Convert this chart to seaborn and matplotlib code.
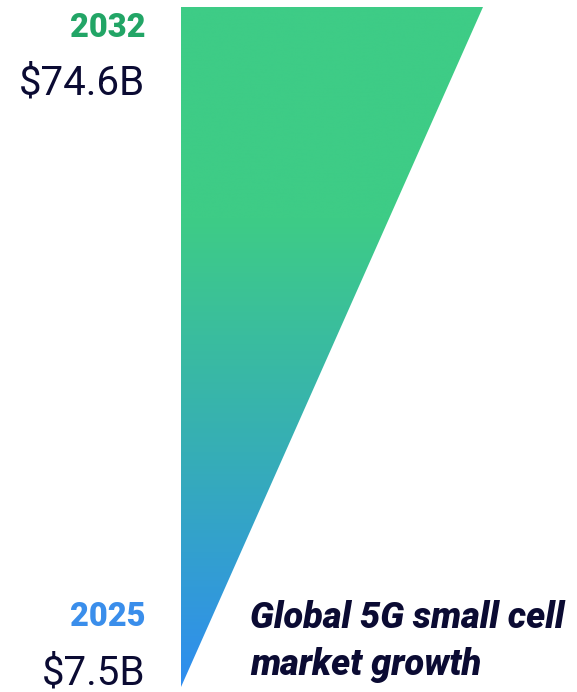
import numpy as np
import matplotlib
matplotlib.use('Agg')
import matplotlib.pyplot as plt
from matplotlib.patches import Polygon
import seaborn as sns

# data
years = [2025, 2032]
values = [7.5, 74.6]
value_labels = ['$7.5B', '$74.6B']
title_lines = ['Global 5G small cell', 'market growth']

BLUE = '#2F8DF0'
GREEN = '#3ECC86'
NAVY = '#0B0B33'
YEAR_COLORS = ['#3A8EEB', '#22A566']

sns.set_theme(style='white')
plt.rcParams['font.family'] = ['Roboto', 'DejaVu Sans']

W, H = 577, 692
fig = plt.figure(figsize=(W / 100, H / 100), dpi=100)
fig.patch.set_facecolor('white')

# triangle area
ax = fig.add_axes([181 / W, 5 / H, 302 / W, 680 / H])
ax.set_xlim(0, values[-1])
ax.set_ylim(years[0], years[-1])
ax.axis('off')

tri = Polygon([(0, years[0]), (0, years[-1]), (values[-1], years[-1])],
              closed=True, facecolor='none', edgecolor='none')
ax.add_patch(tri)

cmap = sns.blend_palette([BLUE, '#36AEB6', GREEN], as_cmap=True)
grad = np.clip(np.linspace(0, 1, 512) / 0.69, 0, 1).reshape(-1, 1)
img = ax.imshow(grad, cmap=cmap, origin='lower', aspect='auto',
                extent=[0, values[-1], years[0], years[-1]], vmin=0, vmax=1,
                interpolation='bicubic')
img.set_clip_path(tri)


def px(x, y):
    return x / W, 1 - y / H


# labels, pixel baselines
year_base = [626, 37]
val_base = [684, 94]
for yr, vl, c, yb, vb in zip(years, value_labels, YEAR_COLORS, year_base, val_base):
    fig.text(*px(146, yb), str(yr), ha='right', va='baseline',
             fontsize=23.5, fontweight='heavy', color=c)
    fig.text(*px(145, vb), vl, ha='right', va='baseline',
             fontsize=29, fontweight='normal', color=NAVY)

for i, line in enumerate(title_lines):
    fig.text(*px(250, 628 + 47 * i), line, ha='left', va='baseline',
             fontsize=26, fontweight='heavy', fontstyle='italic', color=NAVY)

fig.savefig('out.png', dpi=100, facecolor='white')
